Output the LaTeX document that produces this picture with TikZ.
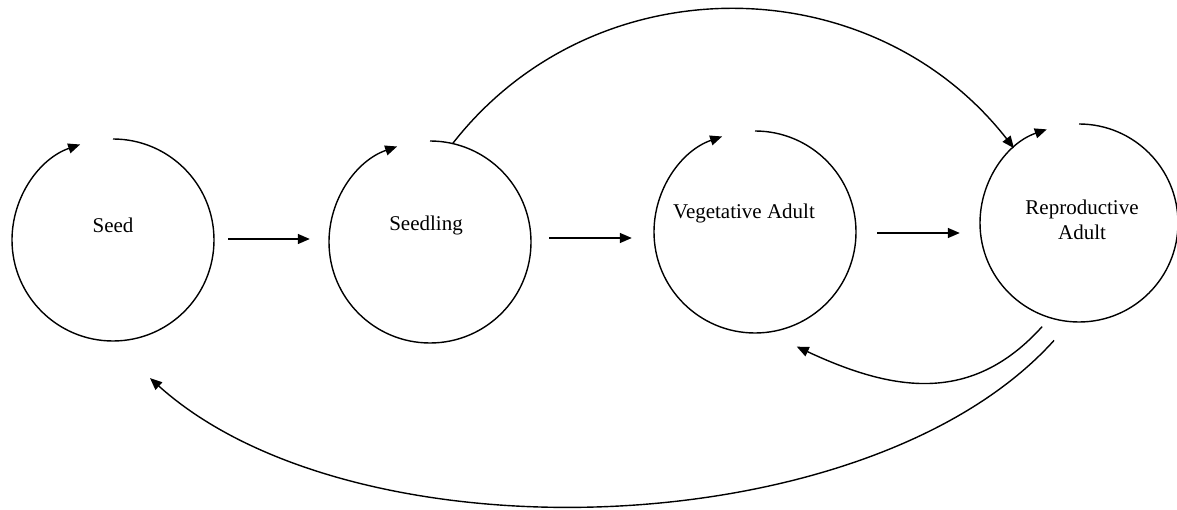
\documentclass[tikz,border=0pt]{standalone}
\usepackage{fontspec}
\setmainfont{Liberation Serif}
\usetikzlibrary{arrows.meta,calc}
\begin{document}
\begin{tikzpicture}[x=1pt,y=1pt,
  stage/.style={circle, minimum size=202pt, inner sep=0pt},
  lbl/.style={font=\fontsize{21}{25}\selectfont, align=center, inner sep=0pt},
  arr/.style={-{Triangle[length=12pt,width=10pt]}, line width=1.4pt},
  ln/.style={line width=1.4pt}]
\useasboundingbox (0,0) rectangle (1177,-510);
% stage nodes
\node[stage] (seed) at (113,-240) {};
\node[stage] (seedling) at (430,-242) {};
\node[stage] (veg) at (755,-232) {};
\node[stage, minimum size=198pt] (ra) at (1079,-223) {};
% labels
\node[lbl] (seedt) at ([yshift=15]seed.center) {Seed};
\node[lbl] (seedlingt) at ([shift={(-4,17)}]seedling.center) {Seedling};
\node[lbl] (vegt) at ([shift={(-11,19)}]veg.center) {Vegetative Adult};
\node[lbl] (rat) at ([shift={(3,3)}]ra.center) {Reproductive\\Adult};
% self-loop arcs
\draw[arr] ([shift={(90:101)}]seed.center) arc[start angle=90, end angle=-251, radius=101];
\draw[arr] ([shift={(90:101)}]seedling.center) arc[start angle=90, end angle=-251, radius=101];
\draw[arr] ([shift={(90:101)}]veg.center) arc[start angle=90, end angle=-251, radius=101];
\draw[arr] ([shift={(90:99)}]ra.center) arc[start angle=90, end angle=-251, radius=99];
% straight transitions
\draw[arr, shorten <=14pt, shorten >=19pt] ([yshift=1]seed.east) -- ([yshift=1]seed.east -| seedling.west);
\draw[arr, shorten <=18pt, shorten >=22pt] ([yshift=4]seedling.east) -- ([yshift=4]seedling.east -| veg.west);
\draw[arr, shorten <=21pt, shorten >=20pt] ([yshift=-1]veg.east) -- ([yshift=-1]veg.east -| ra.west);
% curved transitions
\coordinate (rs1) at ($(ra.center)+(250.4:110)$);
\coordinate (vs1) at ($(veg.center)+(290:122)$);
\coordinate (rs2) at ($(ra.center)+(258:120)$);
\coordinate (ss1) at ($(seed.center)+(285:143)$);
\draw[arr] (seedling.77) to[out=52, in=128, looseness=1.05] (ra.131);
\draw[arr] (rs1) to[out=228, in=335, looseness=1.1] (vs1);
\draw[arr] (rs2) to[out=228, in=318, looseness=0.78] (ss1);
\end{tikzpicture}
\end{document}
